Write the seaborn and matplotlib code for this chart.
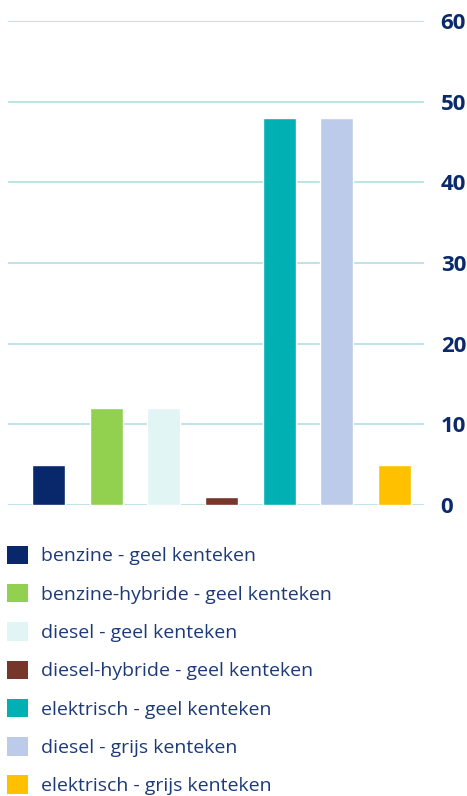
import matplotlib.pyplot as plt
import pandas as pd
import seaborn as sns
from matplotlib.patches import Patch

# categorieën en waarden
categorieen = [
    "benzine - geel kenteken",
    "benzine-hybride - geel kenteken",
    "diesel - geel kenteken",
    "diesel-hybride - geel kenteken",
    "elektrisch - geel kenteken",
    "diesel - grijs kenteken",
    "elektrisch - grijs kenteken",
]
waarden = [5, 12, 12, 1, 48, 48, 5]
kleuren = ["#08286b", "#92d050", "#e0f5f4", "#76362a", "#00b0b3", "#bdcbea", "#ffc000"]
y_ticks = [0, 10, 20, 30, 40, 50, 60]

sns.set_style("white")
plt.rcParams["font.family"] = ["Open Sans", "DejaVu Sans"]

df = pd.DataFrame({"categorie": categorieen, "waarde": waarden})

fig = plt.figure(figsize=(4.67, 7.96), dpi=100)
ax = fig.add_axes([0.0171, 0.3656, 0.891, 0.608])

sns.barplot(
    data=df, x="categorie", y="waarde", hue="categorie",
    palette=kleuren, width=0.57, legend=False, ax=ax, saturation=1,
)

ax.set_ylim(0, 60)
ax.set_xlim(-0.70, 6.51)
ax.set_yticks(y_ticks)
ax.yaxis.tick_right()
ax.tick_params(axis="y", length=0, pad=12, labelsize=16, labelcolor="#0b2a6b")
for lbl in ax.get_yticklabels():
    lbl.set_fontweight("bold")
ax.set_xticks([])
ax.set_xlabel("")
ax.set_ylabel("")
ax.grid(axis="y", color="#b3dfe0", linewidth=1.2)
ax.set_axisbelow(True)
for s in ax.spines.values():
    s.set_visible(False)

handles = [Patch(facecolor=c, edgecolor="none") for c in kleuren]
fig.legend(
    handles, categorieen, loc="upper left", bbox_to_anchor=(0.014, 0.3145),
    frameon=False, fontsize=14, labelcolor="#1d3a78",
    handlelength=1.08, handleheight=1.08, handletextpad=0.7, labelspacing=0.95,
    borderaxespad=0, borderpad=0,
)

fig.savefig("out.png", dpi=100)
